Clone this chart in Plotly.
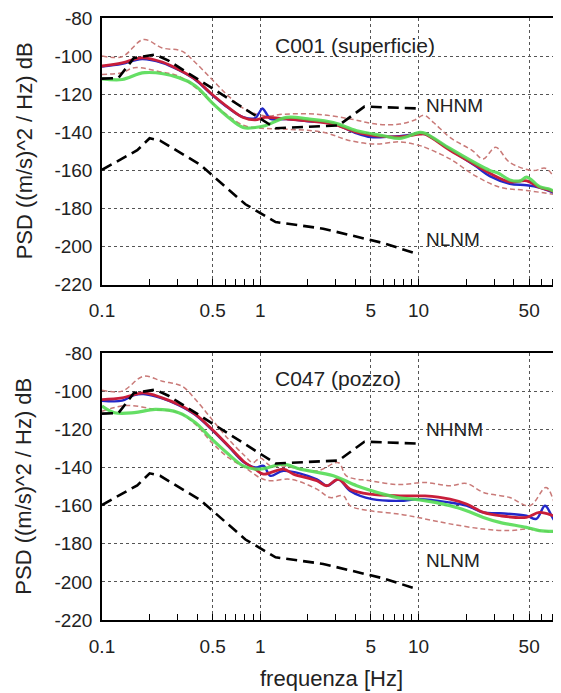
import plotly.graph_objects as go
import math

# ---------------- data ----------------
nhnm_f = [0.1, 0.127, 0.159, 0.217, 0.263, 1.25, 3.125, 4.55, 10]
nhnm_db = [-111.8, -111.5, -101.0, -99.2, -102.4, -137.9, -136.4, -126.5, -127.5]
nlnm_f = [0.1, 0.167, 0.2, 0.233, 0.417, 0.806, 1.25, 2.5, 5.88, 10]
nlnm_db = [-159.7, -149.4, -143.1, -144.4, -157.0, -177.8, -187.1, -190.6, -198.0, -204.0]

# C001 (superficie)
c001_red_f = [0.1, 0.134, 0.179, 0.24, 0.305, 0.39, 0.495, 0.63, 0.78, 0.93, 1.07, 1.47, 2.0, 2.9, 4.07, 6.0, 7.6, 10.2, 11.0, 15.8, 22.7, 28.2, 37.7, 48.3, 58.2, 68, 79]
c001_red_db = [-105.2, -103.5, -100.9, -103.1, -107.0, -112.2, -120.0, -127.0, -132.2, -133.5, -132.2, -133.0, -134.0, -135.7, -140.0, -142.2, -142.4, -141.0, -141.0, -149.5, -157.0, -161.5, -166.0, -165.5, -169.0, -170.5, -172.8]
c001_blue_f = [0.1, 0.134, 0.179, 0.24, 0.305, 0.39, 0.495, 0.63, 0.78, 0.93, 0.98, 1.03, 1.1, 1.16, 1.47, 2.0, 2.9, 4.07, 5.0, 6.0, 7.6, 10.2, 11.0, 15.8, 22.7, 28.2, 37.7, 48.3, 58.2, 68, 79]
c001_blue_db = [-105.5, -104.0, -101.5, -103.5, -107.3, -112.5, -120.3, -127.3, -132.0, -132.5, -130.0, -127.5, -130.5, -133.0, -133.0, -134.2, -135.5, -140.5, -142.5, -142.5, -142.0, -140.8, -141.0, -149.0, -157.5, -163.0, -167.0, -167.8, -169.0, -171.0, -173.0]
c001_green_f = [0.1, 0.134, 0.186, 0.305, 0.39, 0.495, 0.63, 0.78, 0.93, 1.07, 1.47, 2.0, 2.9, 4.07, 6.0, 7.6, 10.2, 11.0, 15.8, 22.7, 28.2, 32, 37.7, 44, 48.3, 58.2, 68, 79]
c001_green_db = [-111.9, -112.3, -108.7, -111.3, -115.7, -124.4, -132.2, -137.5, -137.5, -136.6, -132.2, -133.0, -134.9, -139.2, -141.8, -143.2, -140.0, -140.5, -148.5, -156.0, -160.0, -161.5, -165.0, -165.5, -163.5, -168.5, -170.0, -172.8]
c001_hi_f = [0.1, 0.134, 0.183, 0.24, 0.32, 0.39, 0.495, 0.63, 0.8, 1.07, 1.4, 2.28, 3.7, 5.4, 7.6, 9.5, 10.8, 12.5, 15.8, 22, 25.6, 30.7, 37.7, 53, 64, 79]
c001_hi_db = [-100.0, -100.3, -91.3, -95.7, -97.4, -103.5, -112.2, -121.0, -127.9, -131.4, -130.5, -130.5, -133.0, -135.7, -135.7, -133.5, -131.0, -135.0, -142.7, -149.7, -154.0, -147.9, -155.8, -160.1, -159.0, -170.5]
c001_lo_f = [0.1, 0.134, 0.16, 0.24, 0.305, 0.39, 0.495, 0.63, 0.8, 1.07, 1.4, 2.5, 3.7, 5.4, 7.6, 10.2, 11.0, 15.8, 22.7, 32.6, 48, 79]
c001_lo_db = [-109.6, -108.7, -106.1, -108.4, -110.5, -116.6, -124.4, -131.4, -136.6, -138.0, -138.3, -140.0, -144.4, -146.2, -145.0, -147.0, -147.9, -154.0, -162.7, -168.8, -170.5, -173.1]

# C047 (pozzo)
c047_red_f = [0.1, 0.134, 0.183, 0.24, 0.305, 0.39, 0.495, 0.63, 0.78, 0.93, 1.05, 1.4, 1.62, 2.28, 2.63, 3.12, 3.7, 4.95, 7.6, 10.2, 11, 15.8, 20.1, 25.7, 32.6, 48, 58, 71, 79]
c047_red_db = [-104.4, -103.5, -100.9, -103.5, -107.0, -112.2, -120.0, -128.7, -136.6, -140.9, -143.5, -140.9, -143.5, -147.0, -149.6, -146.2, -151.4, -154.0, -154.9, -154.9, -154.9, -156.6, -159.2, -163.6, -165.3, -166.2, -163.6, -165.3, -167.0]
c047_blue_f = [0.1, 0.134, 0.16, 0.183, 0.24, 0.305, 0.39, 0.495, 0.63, 0.78, 0.93, 1.05, 1.16, 1.4, 2.28, 2.65, 3.12, 3.7, 5.1, 7.6, 10.2, 15.8, 20.1, 25.7, 32.6, 48, 55.5, 63, 71, 79]
c047_blue_db = [-105.0, -105.0, -102.0, -101.5, -103.8, -107.3, -112.5, -120.3, -129.0, -137.0, -140.0, -139.2, -144.4, -141.8, -146.2, -149.6, -146.2, -152.3, -156.6, -157.5, -156.6, -158.4, -160.0, -163.6, -164.0, -165.3, -167.0, -160.1, -167.0, -172.3]
c047_green_f = [0.1, 0.12, 0.16, 0.217, 0.305, 0.39, 0.495, 0.63, 0.78, 0.93, 1.07, 1.4, 1.79, 2.9, 4.07, 6.0, 7.6, 10.2, 15.8, 20.1, 25.7, 32.6, 48, 58, 79]
c047_green_db = [-107.8, -111.3, -111.3, -109.6, -111.3, -116.6, -125.2, -133.1, -139.2, -140.9, -140.5, -138.3, -140.9, -144.4, -149.6, -154.0, -156.0, -157.0, -160.0, -162.7, -166.2, -168.8, -171.4, -173.1, -173.5]
c047_hi_f = [0.1, 0.134, 0.183, 0.24, 0.32, 0.39, 0.495, 0.63, 0.8, 0.9, 1.0, 1.16, 1.4, 2.28, 3.12, 3.5, 4.95, 7.6, 11, 15.8, 20.1, 25.7, 37.7, 50.5, 64, 74, 79]
c047_hi_db = [-99.5, -100.0, -92.2, -94.8, -97.4, -104.4, -114.8, -125.2, -134.0, -137.5, -135.0, -139.2, -139.2, -141.8, -137.5, -144.4, -147.0, -149.0, -147.9, -149.6, -148.4, -153.1, -155.8, -160.1, -150.5, -161.0, -166.0]
c047_lo_f = [0.1, 0.143, 0.217, 0.305, 0.39, 0.495, 0.63, 0.8, 1.0, 1.16, 1.55, 2.28, 2.76, 3.35, 3.7, 4.95, 7.6, 11, 15.8, 25.7, 37.7, 48, 58, 79]
c047_lo_db = [-110.5, -107.5, -109.6, -111.3, -117.4, -127.0, -134.9, -140.1, -145.5, -147.0, -146.2, -151.4, -155.8, -154.9, -160.1, -162.7, -164.5, -167.0, -169.6, -172.3, -173.1, -172.3, -173.1, -174.0]

panel_titles = ["C001 (superficie)", "C047 (pozzo)"]
x_tickvals = [0.1, 0.5, 1, 5, 10, 50]
x_ticktext = ["0.1", "0.5", "1", "5", "10", "50"]
x_minor = [0.2, 0.3, 0.4, 0.6, 0.7, 0.8, 0.9, 2, 3, 4, 6, 7, 8, 9, 20, 30, 40, 60, 70, 80]
y_tickvals = [-80, -100, -120, -140, -160, -180, -200, -220]
y_ticktext = ["-80", "-100", "-120", "-140", "-160", "-180", "-200", "-220"]
y_title = "PSD ((m/s)^2 / Hz) dB"
x_title = "frequenza [Hz]"

# ---------------- styling ----------------
FONT = "Liberation Sans, Arial, sans-serif"
TXT = "#222222"
BLUE = "#2328c8"
RED = "#c81e3a"
GREEN = "#55dc55"
PCT = "#c97a78"

fig = go.Figure()

panels = [
    ("x", "y", c001_blue_f, c001_blue_db, c001_red_f, c001_red_db, c001_green_f, c001_green_db,
     c001_hi_f, c001_hi_db, c001_lo_f, c001_lo_db),
    ("x2", "y2", c047_blue_f, c047_blue_db, c047_red_f, c047_red_db, c047_green_f, c047_green_db,
     c047_hi_f, c047_hi_db, c047_lo_f, c047_lo_db),
]

for (xa, ya, bf, bd, rf, rd, gf, gd, hf, hd, lf, ld) in panels:
    for f, d in ((hf, hd), (lf, ld)):
        fig.add_trace(go.Scatter(x=f, y=d, xaxis=xa, yaxis=ya, mode="lines",
                                 line=dict(color=PCT, width=1.5, dash="5px,3px"),
                                 line_shape="spline", showlegend=False))
    fig.add_trace(go.Scatter(x=bf, y=bd, xaxis=xa, yaxis=ya, mode="lines",
                             line=dict(color=BLUE, width=2.4), line_shape="spline", showlegend=False))
    fig.add_trace(go.Scatter(x=rf, y=rd, xaxis=xa, yaxis=ya, mode="lines",
                             line=dict(color=RED, width=2.8), line_shape="spline", showlegend=False))
    fig.add_trace(go.Scatter(x=gf, y=gd, xaxis=xa, yaxis=ya, mode="lines",
                             line=dict(color=GREEN, width=3.2), opacity=0.9,
                             line_shape="spline", showlegend=False))
    fig.add_trace(go.Scatter(x=nhnm_f, y=nhnm_db, xaxis=xa, yaxis=ya, mode="lines",
                             line=dict(color="black", width=2.6, dash="11px,6px"), showlegend=False))
    fig.add_trace(go.Scatter(x=nlnm_f, y=nlnm_db, xaxis=xa, yaxis=ya, mode="lines",
                             line=dict(color="black", width=2.6, dash="11px,6px"), showlegend=False))

xr = [-1, math.log10(79.5)]

def xaxis(anchor):
    return dict(type="log", range=xr, anchor=anchor,
                tickmode="array", tickvals=x_tickvals, ticktext=x_ticktext,
                ticks="inside", ticklen=6, tickcolor="black", tickwidth=1,
                minor=dict(tickmode="array", tickvals=x_minor, ticks="inside", ticklen=6,
                           tickcolor="black", showgrid=False),
                showgrid=True, gridcolor="#555555", griddash="dot", gridwidth=1,
                showline=True, linecolor="black", linewidth=1.5, mirror=True,
                tickfont=dict(family=FONT, size=19, color=TXT), ticklabelstandoff=8,
                ticklabeloverflow="allow", zeroline=False)

def yaxis(domain, anchor):
    return dict(range=[-220, -80], domain=domain, anchor=anchor,
                tickmode="array", tickvals=y_tickvals, ticktext=y_ticktext,
                showgrid=True, gridcolor="#555555", griddash="dot", gridwidth=1,
                showline=True, linecolor="black", linewidth=1.5, mirror=False,
                ticks="", tickfont=dict(family=FONT, size=19, color=TXT), ticklabelstandoff=4,
                ticklabeloverflow="allow", zeroline=False)

# page body adds an 8px offset; figure is sized so that the plot lands where the reference has it
fig.update_layout(
    width=553, height=685,
    margin=dict(l=94, r=0, t=7, b=73),
    paper_bgcolor="white", plot_bgcolor="white",
    xaxis=xaxis("y"), yaxis=yaxis([0.557, 1.0], "x"),
    xaxis2=xaxis("y2"), yaxis2=yaxis([0.0, 0.4435], "x2"),
    font=dict(family=FONT, color=TXT),
)

ann = []
ann.append(dict(text=panel_titles[0], xref="paper", yref="y", x=0.3725, y=-94.6,
                xanchor="left", yanchor="middle", showarrow=False,
                font=dict(family=FONT, size=21, color=TXT)))
ann.append(dict(text=panel_titles[1], xref="paper", yref="y2", x=0.3725, y=-93.2,
                xanchor="left", yanchor="middle", showarrow=False,
                font=dict(family=FONT, size=21, color=TXT)))
for yref, yh, yl in (("y", -126.1, -196.5), ("y2", -120.0, -188.8)):
    xr_ = "x" if yref == "y" else "x2"
    ann.append(dict(text="NHNM", xref=xr_, yref=yref, x=math.log10(10.8), y=yh,
                    xanchor="left", yanchor="middle", showarrow=False,
                    font=dict(family=FONT, size=19, color=TXT)))
    ann.append(dict(text="NLNM", xref=xr_, yref=yref, x=math.log10(10.8), y=yl,
                    xanchor="left", yanchor="middle", showarrow=False,
                    font=dict(family=FONT, size=19, color=TXT)))
for yc in (1 - (149 - 15) / 605, 1 - (486 - 15) / 605):
    ann.append(dict(text=y_title, xref="paper", yref="paper", x=(24 - 102) / 459, y=yc,
                    xanchor="center", yanchor="middle", textangle=-90, showarrow=False,
                    font=dict(family=FONT, size=22, color=TXT)))
ann.append(dict(text=x_title, xref="paper", yref="paper", x=0.5, y=-(679 - 620) / 605,
                xanchor="center", yanchor="middle", showarrow=False,
                font=dict(family=FONT, size=22, color=TXT)))
fig.update_layout(annotations=ann)

fig.write_html("out.html")
